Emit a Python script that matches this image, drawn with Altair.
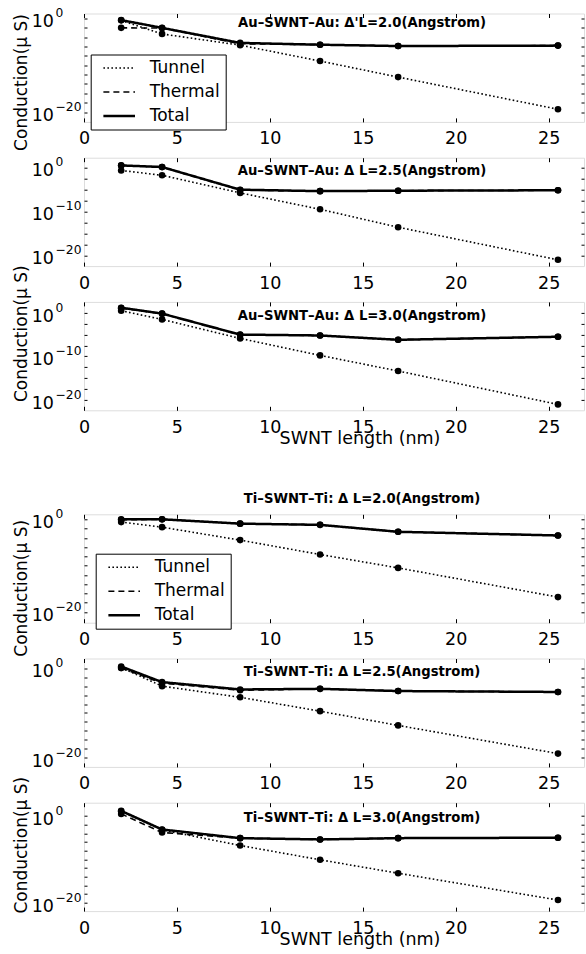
import altair as alt
import pandas as pd

FONT = "DejaVu Sans"

# SWNT lengths (nm) at which the conduction was computed
lengths = [2.0, 4.2, 8.4, 12.7, 16.9, 25.5]
series_names = ["Tunnel", "Thermal", "Total"]

# Conduction (uS) for each contact / barrier width
au20_tunnel = [4.0e-1, 5.0e-4, 2.0e-6, 8.0e-10, 3.0e-13, 4.0e-20]
au20_thermal = [1.0e-2, 9.0e-3, 4.0e-6, 2.5e-6, 1.3e-6, 1.6e-6]
au20_total = [4.5e-1, 1.0e-2, 6.0e-6, 2.5e-6, 1.3e-6, 1.6e-6]

au25_tunnel = [2.0e-1, 1.6e-2, 1.6e-6, 3.0e-10, 2.5e-14, 1.0e-21]
au25_thermal = [2.6, 1.18, 6.9e-6, 4.0e-6, 5.0e-6, 6.3e-6]
au25_total = [2.8, 1.2, 8.5e-6, 4.0e-6, 5.0e-6, 6.3e-6]

au30_tunnel = [3.2, 3.2e-2, 1.3e-6, 1.6e-10, 4.0e-14, 8.0e-22]
au30_thermal = [12.7, 6.7e-1, 8.7e-6, 6.3e-6, 6.3e-7, 3.2e-6]
au30_total = [16.0, 7.0e-1, 1.0e-5, 6.3e-6, 6.3e-7, 3.2e-6]

ti20_tunnel = [2.5e-1, 2.0e-2, 3.2e-5, 2.5e-8, 3.2e-11, 1.6e-17]
ti20_thermal = [7.5e-1, 9.8e-1, 1.15e-1, 6.3e-2, 2.0e-3, 3.2e-4]
ti20_total = [1.0, 1.0, 1.15e-1, 6.3e-2, 2.0e-3, 3.2e-4]

ti25_tunnel = [1.4, 1.0e-4, 3.2e-7, 2.5e-10, 1.6e-13, 8.0e-20]
ti25_thermal = [1.1, 5.0e-4, 1.2e-5, 2.5e-5, 8.0e-6, 5.0e-6]
ti25_total = [2.5, 8.0e-4, 1.8e-5, 2.5e-5, 8.0e-6, 5.0e-6]

ti30_tunnel = [12.6, 6.3e-4, 1.6e-7, 8.0e-11, 6.3e-14, 4.0e-20]
ti30_thermal = [3.2, 1.6e-4, 7.8e-6, 4.0e-6, 8.0e-6, 1.0e-5]
ti30_total = [16.0, 8.0e-4, 8.0e-6, 4.0e-6, 8.0e-6, 1.0e-5]

# axis ticks
x_ticks = [0, 5, 10, 15, 20, 25]
y_minor_2 = [1, 1e-2, 1e-4, 1e-6, 1e-8, 1e-10, 1e-12, 1e-14, 1e-16, 1e-18, 1e-20]
y_minor_25 = [1, 3.16e-3, 1e-5, 3.16e-8, 1e-10, 3.16e-13, 1e-15, 3.16e-18, 1e-20]
y_labels_2 = [1, 1e-20]
y_exps_2 = ["0", "\u221220"]
y_labels_3 = [1, 1e-10, 1e-20]
y_exps_3 = ["0", "\u221210", "\u221220"]

W = 500
H = 108.4
XMAX = 26.9

dash_scale = alt.Scale(domain=series_names, range=[[1.6, 2.4], [6, 4], [1, 0]])
width_scale = alt.Scale(type="ordinal", domain=series_names, range=[1.6, 1.6, 2.5])


def panel(tunnel, thermal, total, y_lo, y_hi, minor, lab_vals, lab_exps,
          title, title_y, legend_xy=None, ylabel_y=None, xtitle=False):
    df = pd.DataFrame({
        "length": lengths * 3,
        "G": tunnel + thermal + total,
        "series": [s for s in series_names for _ in lengths],
    })
    xs = alt.Scale(domain=[0, XMAX], nice=False, zero=False)
    ys = alt.Scale(type="log", domain=[y_lo, y_hi], nice=False)

    tick_common = dict(labels=False, domain=False, grid=False,
                       tickColor="black", tickWidth=1, title=None)
    x_label_axis = alt.Axis(orient="bottom", values=x_ticks, ticks=False, tickSize=0,
                            domain=False, grid=False, labelFont=FONT,
                            labelFontSize=17.5, labelColor="black", labelPadding=8,
                            labelFlush=False, labelOverlap=False, title=None)
    x_in_bottom = alt.Axis(orient="top", offset=-H, values=x_ticks, tickSize=4, **tick_common)
    x_in_top = alt.Axis(orient="bottom", offset=-H, values=x_ticks, tickSize=4, **tick_common)
    y_in_left = alt.Axis(orient="right", offset=-W, values=minor, tickSize=3, **tick_common)
    y_in_right = alt.Axis(orient="left", offset=-W, values=minor, tickSize=3, **tick_common)

    if legend_xy is not None:
        leg = alt.Legend(title=None, orient="none", legendX=legend_xy[0], legendY=legend_xy[1],
                         symbolType="stroke", symbolSize=1000, symbolStrokeColor="black",
                         labelFont=FONT, labelFontSize=17, labelColor="black",
                         strokeColor="black", fillColor="white", padding=5,
                         rowPadding=6, clipHeight=17, labelOffset=13, symbolOffset=6)
    else:
        leg = None

    base = alt.Chart(df)
    lines = base.mark_line(color="black", strokeCap="butt").encode(
        x=alt.X("length:Q", scale=xs, axis=x_label_axis),
        y=alt.Y("G:Q", scale=ys, axis=y_in_left),
        strokeDash=alt.StrokeDash("series:N", scale=dash_scale, legend=leg),
        strokeWidth=alt.StrokeWidth("series:N", scale=width_scale, legend=leg),
    )
    pts_total = base.transform_filter(alt.datum.series == "Total").mark_circle(
        size=44, color="black", opacity=1).encode(
        x=alt.X("length:Q", scale=xs, axis=x_in_bottom),
        y=alt.Y("G:Q", scale=ys, axis=y_in_right),
    )
    pts_other = base.transform_filter(alt.datum.series != "Total").mark_circle(
        size=44, color="black", opacity=1).encode(
        x=alt.X("length:Q", scale=xs, axis=x_in_top),
        y=alt.Y("G:Q", scale=ys, axis=None),
    )

    lab_df = pd.DataFrame({"G": lab_vals, "exp": lab_exps, "base": ["10"] * len(lab_vals)})
    ten = alt.Chart(lab_df).mark_text(align="right", baseline="alphabetic", dy=9, font=FONT,
                                      fontSize=17.5, color="black").encode(
        x=alt.value(-30), y=alt.Y("G:Q", scale=ys, axis=None), text="base:N")
    sup = alt.Chart(lab_df).mark_text(align="left", baseline="alphabetic", dy=-1, font=FONT,
                                      fontSize=12.3, color="black").encode(
        x=alt.value(-28.5), y=alt.Y("G:Q", scale=ys, axis=None), text="exp:N")

    ttl = alt.Chart(pd.DataFrame({"t": [title]})).mark_text(
        font=FONT, fontWeight="bold", fontSize=13.2, align="center", baseline="alphabetic",
        color="black").encode(x=alt.value(278), y=alt.value(title_y), text="t:N")

    layers = [lines, pts_other, pts_total, ten, sup, ttl]
    if ylabel_y is not None:
        layers.append(alt.Chart(pd.DataFrame({"t": ["Conduction(\u03bc S)"]})).mark_text(
            font=FONT, fontSize=17, angle=270, align="center", baseline="alphabetic",
            color="black").encode(x=alt.value(-56.7), y=alt.value(ylabel_y), text="t:N"))
    if xtitle:
        layers.append(alt.Chart(pd.DataFrame({"t": ["SWNT length (nm)"]})).mark_text(
            font=FONT, fontSize=17.5, align="center", baseline="alphabetic",
            color="black").encode(x=alt.value(276), y=alt.value(H + 34), text="t:N"))

    return alt.layer(*layers).resolve_axis(x="independent", y="independent").properties(
        width=W, height=H)


p1 = panel(au20_tunnel, au20_thermal, au20_total, 7.9e-23, 11.7, y_minor_2, y_labels_2, y_exps_2,
           "Au\u2013SWNT\u2013Au: \u0394'L=2.0(Angstrom)", 13, legend_xy=(6.7, 41), ylabel_y=69)
p2 = panel(au25_tunnel, au25_thermal, au25_total, 3.7e-23, 158, y_minor_25, y_labels_3, y_exps_3,
           "Au\u2013SWNT\u2013Au: \u0394 L=2.5(Angstrom)", 16.8)
p3 = panel(au30_tunnel, au30_thermal, au30_total, 3.5e-23, 347, y_minor_25, y_labels_3, y_exps_3,
           "Au\u2013SWNT\u2013Au: \u0394 L=3.0(Angstrom)", 17.8, ylabel_y=31.8, xtitle=True)
p4 = panel(ti20_tunnel, ti20_thermal, ti20_total, 4.7e-23, 12.0, y_minor_2, y_labels_2, y_exps_2,
           "Ti\u2013SWNT\u2013Ti: \u0394 L=2.0(Angstrom)", -10.9, legend_xy=(11.7, 39.4), ylabel_y=74)
p5 = panel(ti25_tunnel, ti25_thermal, ti25_total, 8.3e-23, 155, y_minor_2, y_labels_2, y_exps_2,
           "Ti\u2013SWNT\u2013Ti: \u0394 L=2.5(Angstrom)", 17.1)
p6 = panel(ti30_tunnel, ti30_thermal, ti30_total, 1.12e-22, 1230, y_minor_2, y_labels_2, y_exps_2,
           "Ti\u2013SWNT\u2013Ti: \u0394 L=3.0(Angstrom)", 19.2, ylabel_y=42.5, xtitle=True)

# empty row separating the Au and Ti groups
gap = alt.Chart(pd.DataFrame({"gap": [0]})).mark_point(opacity=0).encode(
    x=alt.value(0), y=alt.value(0)).properties(
    width=W, height=32.3, view=alt.ViewBackground(stroke="transparent"))

chart = alt.vconcat(p1, p2, p3, gap, p4, p5, p6, spacing=35.2, bounds="flush").resolve_scale(
    strokeDash="independent", strokeWidth="independent"
).properties(
    padding={"left": 12, "top": 6.5, "right": 0, "bottom": 0}
).configure_view(stroke="black", strokeWidth=1).configure(background="white")

chart.save("out.html", embed_options={"renderer": "svg", "actions": False})
